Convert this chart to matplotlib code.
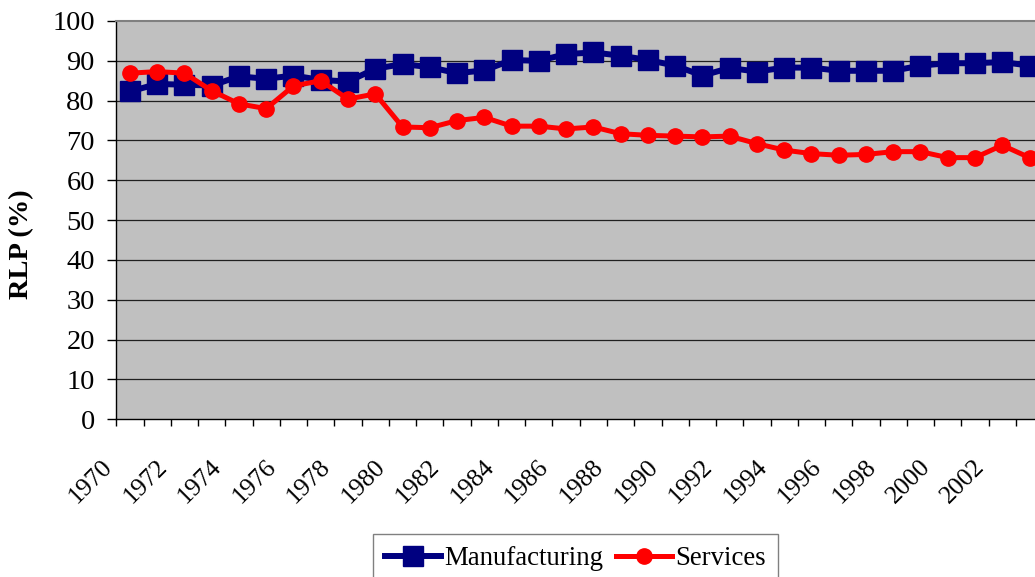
import numpy as np
import matplotlib
matplotlib.use("Agg")
import matplotlib.pyplot as plt
from matplotlib.transforms import ScaledTranslation

plt.rcParams['font.family'] = ['Liberation Serif', 'DejaVu Serif']

years = list(range(1970, 2004))
manufacturing = [82.3, 84.2, 84.0, 83.8, 86.1, 85.5, 86.3, 85.2, 84.8, 88.0,
                 89.2, 88.4, 86.9, 87.6, 90.2, 90.0, 91.7, 92.1, 91.3, 90.2,
                 88.8, 86.3, 88.2, 87.3, 88.3, 88.3, 87.5, 87.5, 87.5, 88.8,
                 89.4, 89.4, 89.7, 88.8]
services = [86.9, 87.3, 86.9, 82.5, 79.2, 78.0, 83.7, 85.0, 80.4, 81.7,
            73.4, 73.2, 75.0, 75.8, 73.6, 73.6, 72.9, 73.4, 71.7, 71.3,
            71.1, 70.9, 71.1, 69.2, 67.6, 66.7, 66.3, 66.5, 67.2, 67.2,
            65.7, 65.7, 68.8, 65.7]
yticks = list(range(0, 101, 10))

W, H = 1035, 577
fig = plt.figure(figsize=(W / 100, H / 100), dpi=100)

# plot area in pixels (excel style, runs off the right edge)
step = 27.26
left_px, top_px, bot_px = 116.3, 21, 419.3
x0, x1 = -0.5, 33.5
ax = fig.add_axes([left_px / W, 1 - bot_px / H,
                   (x1 - x0) * step / W, (bot_px - top_px) / H])
ax.set_facecolor('#C0C0C0')

x = np.arange(len(years))
ax.plot(x, manufacturing, color='#000080', lw=4.3, marker='s', ms=14,
        label='Manufacturing', zorder=3)
ax.plot(x, services, color='#FF0000', lw=3.6, marker='o', ms=11,
        label='Services', zorder=4)

ax.set_xlim(x0, x1)
ax.set_ylim(0, 100)
ax.set_yticks(yticks)
ax.tick_params(axis='y', labelsize=20.5, length=6.5, width=1, pad=9, direction='out')
for v in yticks[1:-1]:
    ax.axhline(v, color='#202020', lw=0.9, zorder=1)

# tick marks at category boundaries, labels every other year
ax.set_xticks(np.arange(len(years) + 1) - 0.5)
ax.set_xticklabels([])
ax.tick_params(axis='x', which='major', length=5, width=1, direction='out')
ax.set_xticks(x[::2], minor=True)
ax.set_xticklabels([str(y) for y in years[::2]], minor=True)
ax.tick_params(axis='x', which='minor', length=0, labelsize=18.5, pad=26)
off = ScaledTranslation(-0.13, 0, fig.dpi_scale_trans)
for lab in ax.get_xticklabels(minor=True):
    lab.set_rotation(45)
    lab.set_ha('right')
    lab.set_transform(lab.get_transform() + off)

for s in ['left', 'bottom']:
    ax.spines[s].set_color('black')
    ax.spines[s].set_linewidth(1)
ax.spines['top'].set_color('#808080')
ax.spines['top'].set_linewidth(1.5)
ax.spines['right'].set_visible(False)

fig.text(22 / W, 1 - 244 / H, 'RLP (%)', rotation=90, fontsize=20.5,
         fontweight='bold', ha='center', va='center')

leg = fig.legend(loc='upper left', bbox_to_anchor=(372.5 / W, 1 - 534 / H),
                 ncol=2, fontsize=19.3, frameon=True, fancybox=False,
                 handlelength=2.1, handletextpad=0.12, columnspacing=0.49,
                 borderpad=0.45, borderaxespad=0)
leg.get_frame().set_edgecolor('#606060')
leg.get_frame().set_linewidth(1)

fig.savefig('out.png', dpi=100)
